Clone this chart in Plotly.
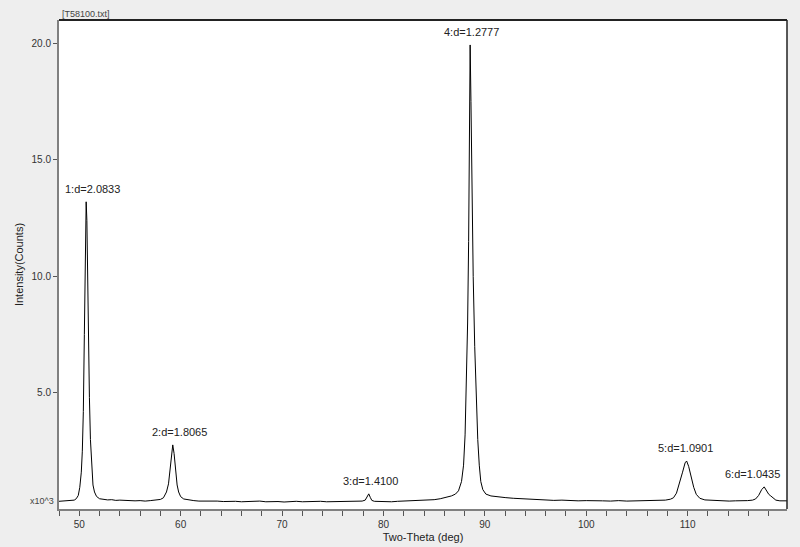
import plotly.graph_objects as go

# --- measured pattern (2-theta in deg, intensity in x10^3 counts)
two_theta = [
    48.0, 48.3, 48.6, 48.9, 49.2, 49.5, 49.7, 49.9, 50.05, 50.2, 50.3, 50.4, 50.5, 50.6, 50.68,
    50.75, 50.82, 50.9, 51.0, 51.1, 51.2, 51.35, 51.5, 51.7, 52.0, 52.4, 52.8, 53.2, 53.6, 54.0,
    54.5, 55.0, 55.5, 56.0, 56.5, 57.0, 57.5, 58.0, 58.3, 58.6, 58.8, 59.0, 59.1, 59.22, 59.35,
    59.5, 59.65, 59.8, 60.0, 60.3, 60.8, 61.3, 61.8, 62.4, 63.0, 63.6, 64.2, 64.8, 65.4, 66.0,
    66.6, 67.2, 67.8, 68.4, 69.0, 69.6, 70.2, 70.8, 71.4, 72.0, 72.6, 73.2, 73.8, 74.4, 75.0,
    75.6, 76.2, 76.8, 77.4, 77.9, 78.2, 78.4, 78.55, 78.7, 78.85, 79.1, 79.6, 80.2, 80.8, 81.4,
    82.0, 82.6, 83.2, 83.8, 84.4, 85.0, 85.6, 86.2, 86.7, 87.1, 87.4, 87.7, 87.9, 88.05, 88.2,
    88.3, 88.4, 88.48, 88.55, 88.63, 88.72, 88.85, 89.0, 89.15, 89.3, 89.45, 89.6, 89.8, 90.1,
    90.6, 91.2, 92.0, 92.8, 93.6, 94.4, 95.2, 96.0, 96.8, 97.6, 98.4, 99.2, 100.0, 100.8, 101.6,
    102.4, 103.2, 104.0, 104.8, 105.6, 106.4, 107.2, 107.8, 108.3, 108.6, 108.9, 109.2, 109.5,
    109.75, 109.9, 110.1, 110.35, 110.6, 110.85, 111.2, 111.7, 112.3, 112.9, 113.5, 114.1, 114.7,
    115.3, 115.9, 116.4, 116.7, 117.0, 117.3, 117.55, 117.8, 118.0, 118.2, 118.4, 118.7, 119.1,
    119.5, 119.8,
]
intensity = [
    0.35, 0.36, 0.34, 0.37, 0.38, 0.40, 0.46, 0.60, 0.95, 1.60, 2.50, 4.20, 7.50, 11.00, 13.20,
    12.40, 10.00, 7.00, 4.80, 3.00, 1.90, 1.05, 0.75, 0.56, 0.46, 0.43, 0.41, 0.42, 0.39, 0.40,
    0.38, 0.39, 0.37, 0.38, 0.36, 0.38, 0.39, 0.43, 0.50, 0.75, 1.10, 1.80, 2.30, 2.77, 2.40,
    1.60, 1.05, 0.75, 0.55, 0.45, 0.40, 0.38, 0.36, 0.37, 0.35, 0.36, 0.34, 0.36, 0.35, 0.33,
    0.35, 0.34, 0.36, 0.33, 0.35, 0.34, 0.32, 0.34, 0.35, 0.33, 0.34, 0.32, 0.35, 0.33, 0.34,
    0.35, 0.33, 0.34, 0.35, 0.36, 0.40, 0.58, 0.67, 0.52, 0.39, 0.35, 0.34, 0.35, 0.33, 0.35,
    0.36, 0.35, 0.37, 0.38, 0.40, 0.42, 0.46, 0.52, 0.58, 0.66, 0.80, 1.20, 1.90, 3.20, 5.50,
    8.00, 11.50, 16.00, 19.93, 17.50, 13.50, 10.00, 7.00, 4.80, 3.00, 1.90, 1.20, 0.85, 0.66,
    0.58, 0.54, 0.51, 0.48, 0.46, 0.44, 0.42, 0.41, 0.39, 0.40, 0.38, 0.37, 0.38, 0.36, 0.37,
    0.36, 0.38, 0.36, 0.37, 0.35, 0.37, 0.38, 0.40, 0.44, 0.50, 0.70, 1.10, 1.60, 2.00, 2.08,
    1.85, 1.35, 0.95, 0.65, 0.48, 0.41, 0.39, 0.37, 0.38, 0.36, 0.37, 0.36, 0.38, 0.40, 0.45,
    0.60, 0.85, 0.97, 0.80, 0.65, 0.58, 0.50, 0.40, 0.37, 0.38, 0.37,
]

# --- peak labels
peak_labels = ["1:d=2.0833", "2:d=1.8065", "3:d=1.4100", "4:d=1.2777", "5:d=1.0901", "6:d=1.0435"]
peak_pos = [50.68, 59.22, 78.55, 88.55, 109.9, 117.55]
peak_height = [13.2, 2.77, 0.67, 19.93, 2.08, 0.97]
label_xshift = [6, 7, 2, 1, -1, -12]

x_major = [50, 60, 70, 80, 90, 100, 110]
y_major = [5.0, 10.0, 15.0, 20.0]

fig = go.Figure()
fig.add_trace(go.Scatter(x=two_theta, y=intensity, mode="lines",
                         line=dict(color="black", width=1), showlegend=False))

for lab, px, py, dx in zip(peak_labels, peak_pos, peak_height, label_xshift):
    fig.add_annotation(x=px, y=py, text=lab, showarrow=False, xanchor="center",
                       yanchor="bottom", yshift=5, xshift=dx,
                       font=dict(size=11, color="#222222"))

fig.add_annotation(x=0, xref="paper", y=0.35, text="x10^3", showarrow=False,
                   xanchor="right", xshift=-3, font=dict(size=9, color="#444444"))
fig.add_annotation(x=0, xref="paper", y=1, yref="paper", text="[T58100.txt]",
                   showarrow=False, xanchor="left", yanchor="bottom", xshift=1, yshift=-1,
                   font=dict(size=9, color="#444444"))

# top and right frame
fig.add_shape(type="line", xref="paper", yref="paper", x0=0, x1=1, y0=1, y1=1,
              line=dict(color="#222222", width=2))
fig.add_shape(type="line", xref="paper", yref="paper", x0=1, x1=1, y0=0, y1=1,
              line=dict(color="#222222", width=1.5))

fig.update_xaxes(range=[48, 119.8], tickvals=x_major, ticks="outside", ticklen=5,
                 tickcolor="#555555", showgrid=False, zeroline=False, automargin=False,
                 showline=True, linecolor="#808080", linewidth=2,
                 minor=dict(tick0=48, dtick=2, ticks="outside", ticklen=5, tickcolor="#555555"),
                 tickfont=dict(size=10, color="#333333"),
                 title=dict(text="Two-Theta (deg)", font=dict(size=11, color="#222222"), standoff=4))
fig.update_yaxes(range=[0.02, 21.0], tickvals=y_major, ticktext=[f"{v:.1f}" for v in y_major],
                 ticks="outside", ticklen=4, tickcolor="#555555", showgrid=False, zeroline=False,
                 showline=True, linecolor="#808080", linewidth=2, automargin=False,
                 tickfont=dict(size=10, color="#333333"),
                 title=dict(text="Intensity(Counts)", font=dict(size=11, color="#222222"), standoff=6))

fig.update_layout(
    width=800, height=547,
    margin=dict(l=59, r=13, t=20, b=38),
    paper_bgcolor="#eeeeee", plot_bgcolor="white",
    font=dict(family="Liberation Sans, Arial, sans-serif"),
)

fig.write_html("out.html", config={"displayModeBar": False},
               post_script="document.body.style.margin='0';document.body.style.background='#eeeeee';")
